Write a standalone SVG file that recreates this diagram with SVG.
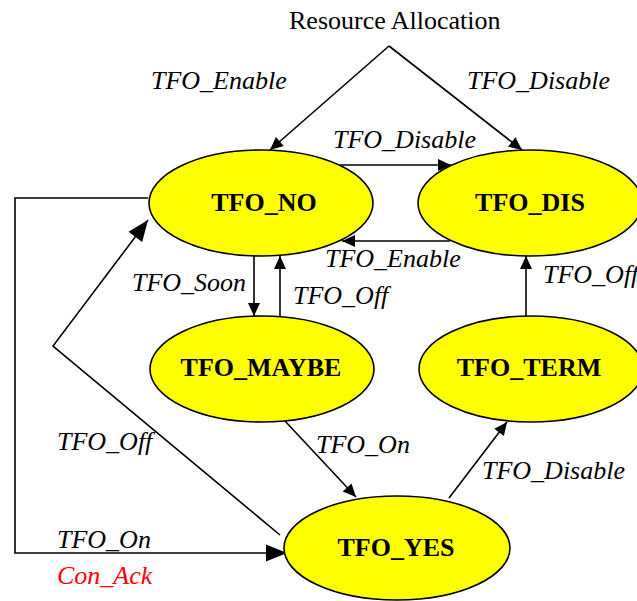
<svg xmlns="http://www.w3.org/2000/svg" width="637" height="601" viewBox="0 0 637 601">
<style>
.ln{fill:none;stroke:#000;stroke-width:1.6}
.node{fill:#ffff00;stroke:#000;stroke-width:1.6}
.nt{font-family:"Liberation Serif","Times New Roman",serif;font-weight:bold;font-size:26px;text-anchor:middle;fill:#000}
.lb{font-family:"Liberation Serif","Times New Roman",serif;font-style:italic;font-size:26px;fill:#000}
.tt{font-family:"Liberation Serif","Times New Roman",serif;font-size:26px;fill:#000}
</style>
<defs>
<marker id="a" markerUnits="userSpaceOnUse" markerWidth="14" markerHeight="12" refX="13" refY="6" orient="auto" overflow="visible"><path d="M0,0 L13,6 L0,12 z" fill="#000"/></marker>
<marker id="b" markerUnits="userSpaceOnUse" markerWidth="22" markerHeight="17" refX="21" refY="8.5" orient="auto" overflow="visible"><path d="M0,0 L21,8.5 L0,17 z" fill="#000"/></marker>
</defs>
<rect width="637" height="601" fill="#fff"/>
<text class="tt" x="289" y="29">Resource Allocation</text>
<g id="connectors">
<path class="ln" d="M389,46 L270,150" marker-end="url(#a)"/>
<path class="ln" d="M389,46 L522,150" marker-end="url(#a)"/>
<path class="ln" d="M340,165 L451,165" marker-end="url(#a)"/>
<path class="ln" d="M450,241 L342,241" marker-end="url(#a)"/>
<path class="ln" d="M254,256 L254,316" marker-end="url(#a)"/>
<path class="ln" d="M280,316 L280,256" marker-end="url(#a)"/>
<path class="ln" d="M526,316 L526,256" marker-end="url(#a)"/>
<path class="ln" d="M285,421 L356,497" marker-end="url(#a)"/>
<path class="ln" d="M449,498 L507,422" marker-end="url(#a)"/>
<path class="ln" d="M280,535 L53,346 L148,220" marker-end="url(#b)"/>
<path class="ln" d="M148,198 L15,198 L15,553 L287,553" marker-end="url(#b)"/>
<text class="lb" x="151" y="89">TFO_Enable</text>
<text class="lb" x="467" y="89">TFO_Disable</text>
<text class="lb" x="333" y="148">TFO_Disable</text>
<text class="lb" x="325" y="267">TFO_Enable</text>
<text class="lb" x="132" y="291">TFO_Soon</text>
<text class="lb" x="293" y="304">TFO_Off</text>
<text class="lb" x="543" y="283">TFO_Off</text>
<text class="lb" x="57" y="450">TFO_Off</text>
<text class="lb" x="316" y="453">TFO_On</text>
<text class="lb" x="482" y="479">TFO_Disable</text>
<text class="lb" x="57" y="548">TFO_On</text>
<text class="lb" x="57" y="584" fill="#ff0000" style="fill:#ff0000">Con_Ack</text>
</g>
<g id="TFO_NO"><ellipse class="node" cx="261" cy="203" rx="112" ry="53"/><text class="nt" x="264" y="211">TFO_NO</text></g>
<g id="TFO_DIS"><ellipse class="node" cx="530" cy="203" rx="112" ry="53"/><text class="nt" x="530" y="211">TFO_DIS</text></g>
<g id="TFO_MAYBE"><ellipse class="node" cx="262" cy="369" rx="112" ry="53"/><text class="nt" x="261" y="376">TFO_MAYBE</text></g>
<g id="TFO_TERM"><ellipse class="node" cx="531" cy="369" rx="112" ry="53"/><text class="nt" x="529" y="376">TFO_TERM</text></g>
<g id="TFO_YES"><ellipse class="node" cx="397" cy="548" rx="113" ry="52"/><text class="nt" x="396" y="556">TFO_YES</text></g>
</svg>
